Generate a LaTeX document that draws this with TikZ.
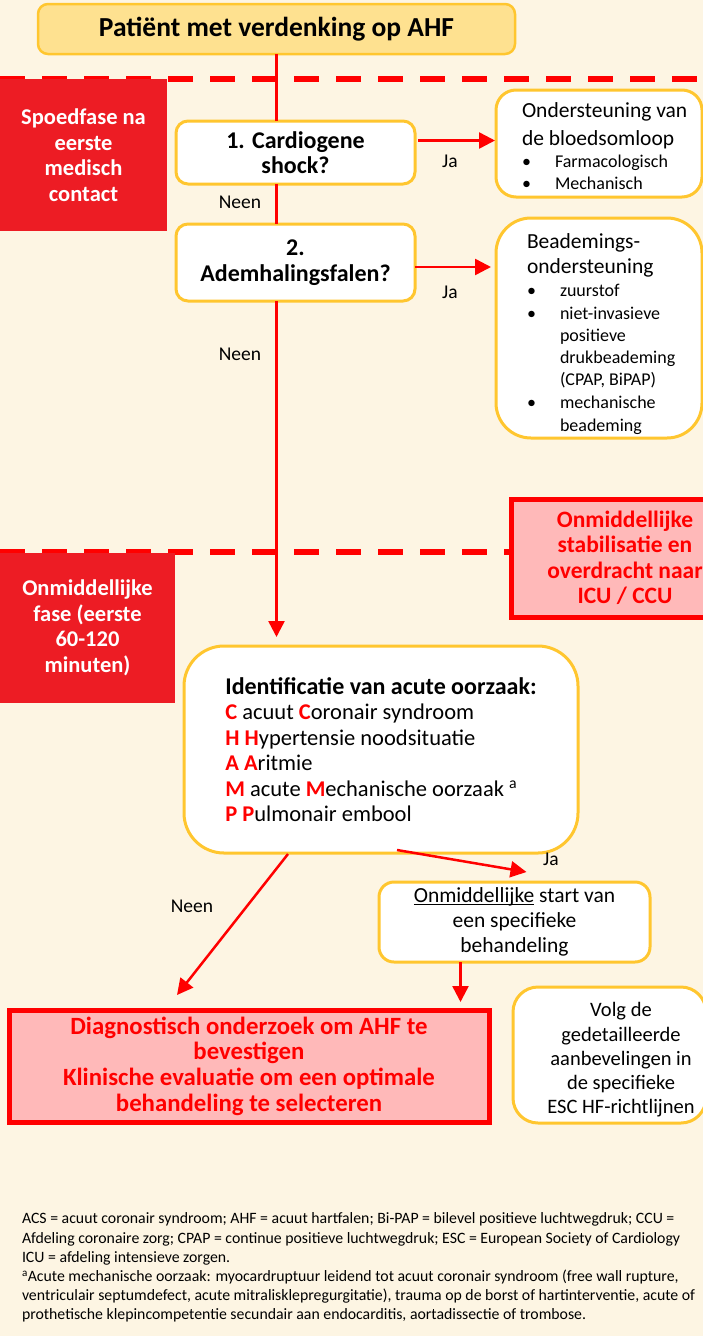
\documentclass[tikz,border=0pt]{standalone}
\usepackage{fontspec}
\setmainfont{Carlito}
\usetikzlibrary{arrows.meta,calc}
\definecolor{cCream}{HTML}{FDF5E3}
\definecolor{cGold}{HTML}{FFC62F}
\definecolor{cTitle}{HTML}{FEE190}
\definecolor{cPhase}{HTML}{ED1C24}
\definecolor{cLine}{HTML}{FF0000}
\definecolor{cPink}{HTML}{FFB9B9}
\newcommand{\setfs}[2]{\fontsize{#1}{#2}\selectfont}
\newcommand{\redltr}[1]{\textcolor{cLine}{\textbf{#1}}}
\newcommand{\bul}{\makebox[33pt][l]{\textbullet}}
\newcommand{\undl}[1]{\setbox0\hbox{#1}\rlap{\rule[-2.4pt]{\wd0}{1.1pt}}\box0\relax}

\begin{document}
\begin{tikzpicture}[x=1pt,y=-1pt,every node/.style={outer sep=0pt,inner sep=0pt},
  goldbox/.style={draw=cGold,line width=3pt,fill=white,align=center,anchor=north west},
  phasebox/.style={fill=cPhase,text=white,align=center,anchor=north west,
                   font=\setfs{22.5}{25.5}\bfseries},
  pinkbox/.style={draw=cLine,line width=5pt,fill=cPink,text=cLine,align=center,
                  anchor=north west,font=\setfs{23.5}{25.5}\bfseries},
  boxtext/.style={align=left,anchor=north west,font=\setfs{18}{22.2}},
  flow/.style={draw=cLine,line width=2.5pt,-{Triangle[length=16pt,width=16pt]}},
  phaseline/.style={draw=cLine,line width=6pt,dash pattern=on 25pt off 17pt},
  lbl/.style={font=\setfs{19.5}{22},anchor=base}]

\fill[cCream] (0,0) rectangle (703,1336);
\useasboundingbox (0,0) rectangle (703,1336);
\clip (0,0) rectangle (703,1336);

% phase separators
\draw[phaseline] (0,79) -- (703,79);
\draw[phaseline] (0,552) -- (511,552);

% phases (left)
\node[phasebox,minimum width=167pt,minimum height=152pt] (fase1) at (0,79)
  {Spoedfase na\\eerste\\medisch\\contact};
\node[phasebox,minimum width=175pt,minimum height=150pt] (fase2) at (0,553)
  {Onmiddellijke\\fase (eerste\\60-120\\minuten)};

% start
\node[goldbox,fill=cTitle,line width=2.5pt,rounded corners=10pt,minimum width=477pt,
      minimum height=50pt,font=\setfs{27.5}{30}\bfseries] (patient) at (38,4)
  {Patiënt met verdenking op AHF};

% questions
\node[goldbox,rounded corners=12pt,minimum width=239pt,minimum height=63pt,
      font=\setfs{24}{25}\bfseries] (shock) at (176,121) {1. Cardiogene\\shock?};
\node[goldbox,rounded corners=12pt,minimum width=239pt,minimum height=77pt,
      font=\setfs{24}{26}\bfseries] (adem) at (176,224) {2.\\Ademhalingsfalen?};

% support boxes
\node[goldbox,rounded corners=20pt,minimum width=206pt,minimum height=107pt] (circ) at (496,90) {};
\node[boxtext] (circtxt) at (522,103)
  {\setfs{21.5}{27}Ondersteuning van\\[5pt]\setfs{21.5}{27}de bloedsomloop\\
   \bul Farmacologisch\\\bul Mechanisch};
\node[goldbox,rounded corners=35pt,minimum width=206pt,minimum height=220pt] (beadem) at (496,218) {};
\node[boxtext] (beademtxt) at (527,234)
  {\setfs{21.5}{24.5}Beademings-\\[2.5pt]\setfs{21.5}{24.5}ondersteuning\\[1pt]
   \bul zuurstof\\\bul niet-invasieve\\\hspace*{33pt}positieve\\
   \hspace*{33pt}drukbeademing\\\hspace*{33pt}(CPAP, BiPAP)\\[1pt]
   \bul mechanische\\\hspace*{33pt}beademing};

\node[pinkbox,minimum width=228pt,minimum height=118pt] (stab) at (511,499)
  {Onmiddellijke\\stabilisatie en\\overdracht naar\\ICU / CCU};

% CHAMP
\node[goldbox,align=left,rounded corners=40pt,minimum width=394pt,minimum height=207pt,
      font=\setfs{22.5}{25.5}] (oorzaak) at (184,646)
  {\setfs{24}{25.5}\bfseries Identificatie van acute oorzaak:\\
   \redltr{C} acuut \redltr{C}oronair syndroom\\
   \redltr{H} \redltr{H}ypertensie noodsituatie\\
   \redltr{A} \redltr{A}ritmie\\
   \redltr{M} acute \redltr{M}echanische oorzaak \textsuperscript{a}\\
   \redltr{P} \redltr{P}ulmonair embool};

\node[goldbox,rounded corners=15pt,minimum width=271pt,minimum height=80pt,
      font=\setfs{21.5}{25}] (start) at (379,882)
  {\undl{Onmiddellijke} start van\\een specifieke\\behandeling};

\node[pinkbox,font=\setfs{24.8}{25.7}\bfseries,minimum width=480pt,minimum height=112pt]
  (diag) at (9,1010)
  {Diagnostisch onderzoek om AHF te\\bevestigen\\Klinische evaluatie om een optimale\\
   behandeling te selecteren};

\node[goldbox,rounded corners=25pt,minimum width=193pt,minimum height=136pt] (volg) at (513,987) {};
\node[font=\setfs{20.5}{24.3},align=center] (volgtxt) at (621,1060)
  {Volg de\\gedetailleerde\\aanbevelingen in\\de specifieke\\ESC HF-richtlijnen};

% labels
\node[lbl] (neen1) at (240,208) {Neen};
\node[lbl] (neen2) at (240,360) {Neen};
\node[lbl] (ja1) at (450,167) {Ja};
\node[lbl] (ja2) at (450,298) {Ja};
\node[lbl] (ja3) at (551,865) {Ja};
\node[lbl] (neen3) at (192,912) {Neen};

% connectors
\draw[cLine,line width=2.5pt] (patient.south) -- (patient.south |- shock.north);
\draw[cLine,line width=2.5pt] (patient.south |- shock.south) -- (patient.south |- adem.north);
\draw[flow,shorten >=9pt] (patient.south |- adem.south) -- (patient.south |- oorzaak.north);
\coordinate (ja1in) at ($(shock.east)+(3,-12)$);
\coordinate (ja2in) at ($(adem.east)+(0,4.5)$);
\draw[flow,shorten >=1pt] (ja1in) -- (ja1in -| circ.west);
\draw[flow,shorten >=5pt] (ja2in) -- (ja2in -| beadem.west);
\draw[flow] ($(oorzaak.south)+(16,-3)$) -- ($(start.north)+(12,-10)$);
\draw[flow] ($(oorzaak.south)+(-93,1)$) -- ($(diag.north)+(-72,-15)$);
\draw[flow] ($(start.south)+(-54,0)$) -- ($(diag.north -| start.south)+(-54,-8)$);

% abbreviations
\node[font=\setfs{15.8}{19.2},align=left,anchor=north west] (afk) at (22,1213)
  {ACS = acuut coronair syndroom; AHF = acuut hartfalen; Bi-PAP = bilevel positieve luchtwegdruk; CCU =\\
   Afdeling coronaire zorg; CPAP = continue positieve luchtwegdruk; ESC = European Society of Cardiology\\
   ICU = afdeling intensieve zorgen.\\
   \textsuperscript{a}Acute mechanische oorzaak: myocardruptuur leidend tot acuut coronair syndroom (free wall rupture,\\
   ventriculair septumdefect, acute mitralisklepregurgitatie), trauma op de borst of hartinterventie, acute of\\
   prothetische klepincompetentie secundair aan endocarditis, aortadissectie of trombose.};
\end{tikzpicture}
\end{document}
